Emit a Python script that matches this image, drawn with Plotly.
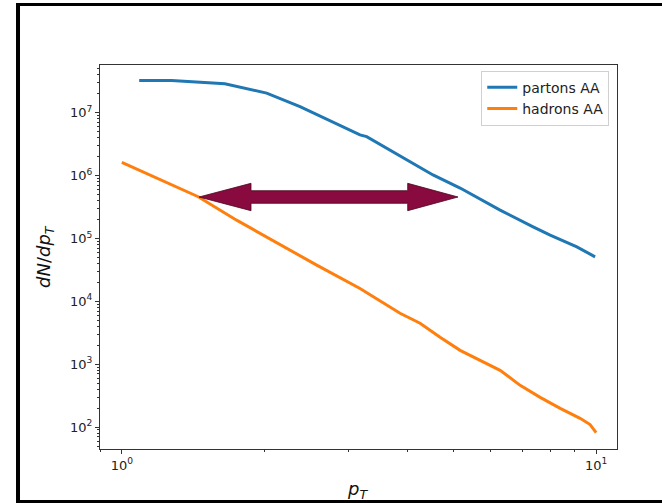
import plotly.graph_objects as go

# ---- data ----
parton_pt = [1.088, 1.273, 1.649, 2.02, 2.375, 2.747, 3.178, 3.283, 3.897, 4.53,
             5.167, 6.274, 7.364, 8.0, 9.107, 9.95]
parton_dn = [3.24e7, 3.24e7, 2.87e7, 2.04e7, 1.25e7, 7.38e6, 4.42e6, 4.15e6, 1.99e6, 1.02e6,
             6.32e5, 2.82e5, 1.53e5, 1.13e5, 7.35e4, 5.09e4]

hadron_pt = [1.0, 1.449, 1.746, 2.02, 2.262, 2.576, 3.178, 3.86, 4.254, 4.688,
             5.167, 5.69, 6.274, 6.915, 7.62, 8.40, 9.25, 9.71, 10.0]
hadron_dn = [1.62e6, 4.6e5, 1.95e5, 1.04e5, 6.51e4, 3.76e4, 1.60e4, 6.46e3, 4.48e3, 2.68e3,
             1.66e3, 1.15e3, 800, 461, 297, 199, 138, 110, 82]

series_names = ["partons AA", "hadrons AA"]
series_colors = ["#1f77b4", "#ff7f0e"]

x_major = [1, 10]
x_major_text = ["10<sup>0</sup>", "10<sup>1</sup>"]
y_major = [1e2, 1e3, 1e4, 1e5, 1e6, 1e7]
y_major_text = ["10<sup>%d</sup>" % e for e in range(2, 8)]

x_minor = [m * 10 ** e for e in (-1, 0, 1) for m in range(2, 10)]
y_minor = [m * 10 ** e for e in range(1, 8) for m in range(2, 10)]

W, H = 662, 503
L, R, T, B = 100, 45, 65, 54
PW, PH = W - L - R, H - T - B


def px(x):
    return (x - L) / PW


def py(y):
    return (H - B - y) / PH


fig = go.Figure()
for xs, ys, name, col in [(parton_pt, parton_dn, series_names[0], series_colors[0]),
                          (hadron_pt, hadron_dn, series_names[1], series_colors[1])]:
    fig.add_trace(go.Scatter(x=xs, y=ys, mode="lines", name=name,
                             line=dict(color=col, width=3)))

axis_common = dict(
    showline=True, linecolor="#333", linewidth=1, mirror=True,
    ticks="outside", ticklen=4, tickcolor="#333", tickwidth=1,
    showgrid=False, zeroline=False,
    tickfont=dict(family="DejaVu Sans", size=13, color="#222"),
)

fig.update_xaxes(type="log", range=[-0.046, 1.044], tickmode="array",
                 tickvals=x_major, ticktext=x_major_text,
                 minor=dict(tickmode="array", tickvals=x_minor, ticks="outside",
                            ticklen=2, tickcolor="#333", showgrid=False),
                 **axis_common)
fig.update_yaxes(type="log", range=[1.652, 7.757], tickmode="array",
                 tickvals=y_major, ticktext=y_major_text,
                 minor=dict(tickmode="array", tickvals=y_minor, ticks="outside",
                            ticklen=2, tickcolor="#333", showgrid=False),
                 **axis_common)

# double-headed arrow (pixel geometry -> paper coords)
arrow_pts = [(199, 197), (251, 183.3), (251, 190.7), (407.7, 190.7), (407.7, 183.3),
             (458, 197), (407.7, 210.7), (407.7, 203.3), (251, 203.3), (251, 210.7)]
path = "M " + " L ".join("%.5f,%.5f" % (px(a), py(b)) for a, b in arrow_pts) + " Z"

shapes = [
    dict(type="path", xref="paper", yref="paper", path=path,
         fillcolor="#880a3e", line=dict(color="#4a0820", width=0.8)),
    # black frame of the screenshot
    dict(type="rect", xref="paper", yref="paper", x0=px(16), x1=px(662), y0=py(3), y1=py(6),
         fillcolor="black", line=dict(width=0)),
    dict(type="rect", xref="paper", yref="paper", x0=px(16), x1=px(20), y0=py(3), y1=py(503),
         fillcolor="black", line=dict(width=0)),
    dict(type="rect", xref="paper", yref="paper", x0=px(16), x1=px(662), y0=py(500), y1=py(503),
         fillcolor="black", line=dict(width=0)),
]

annotations = [
    dict(text="<i>dN</i>/<i>dp</i><sub><i>T</i></sub>", xref="paper", yref="paper",
         x=px(45), y=py(257), textangle=-90, showarrow=False,
         font=dict(family="DejaVu Sans", size=18, color="#111"),
         xanchor="center", yanchor="middle"),
    dict(text="<i>p</i><sub><i>T</i></sub>", xref="paper", yref="paper",
         x=px(357), y=py(490), showarrow=False,
         font=dict(family="DejaVu Sans", size=18, color="#111"),
         xanchor="center", yanchor="middle"),
]

fig.update_layout(
    width=W, height=H, autosize=False,
    margin=dict(l=L, r=R, t=T, b=B),
    paper_bgcolor="white", plot_bgcolor="white",
    shapes=shapes, annotations=annotations,
    showlegend=True,
    legend=dict(x=0.985, y=0.985, xanchor="right", yanchor="top",
                bgcolor="rgba(255,255,255,0.8)", bordercolor="#d0d0d0", borderwidth=1,
                font=dict(family="DejaVu Sans", size=14, color="#222"),
                tracegroupgap=0),
    font=dict(family="DejaVu Sans"),
)

fig.write_html("out.html")
